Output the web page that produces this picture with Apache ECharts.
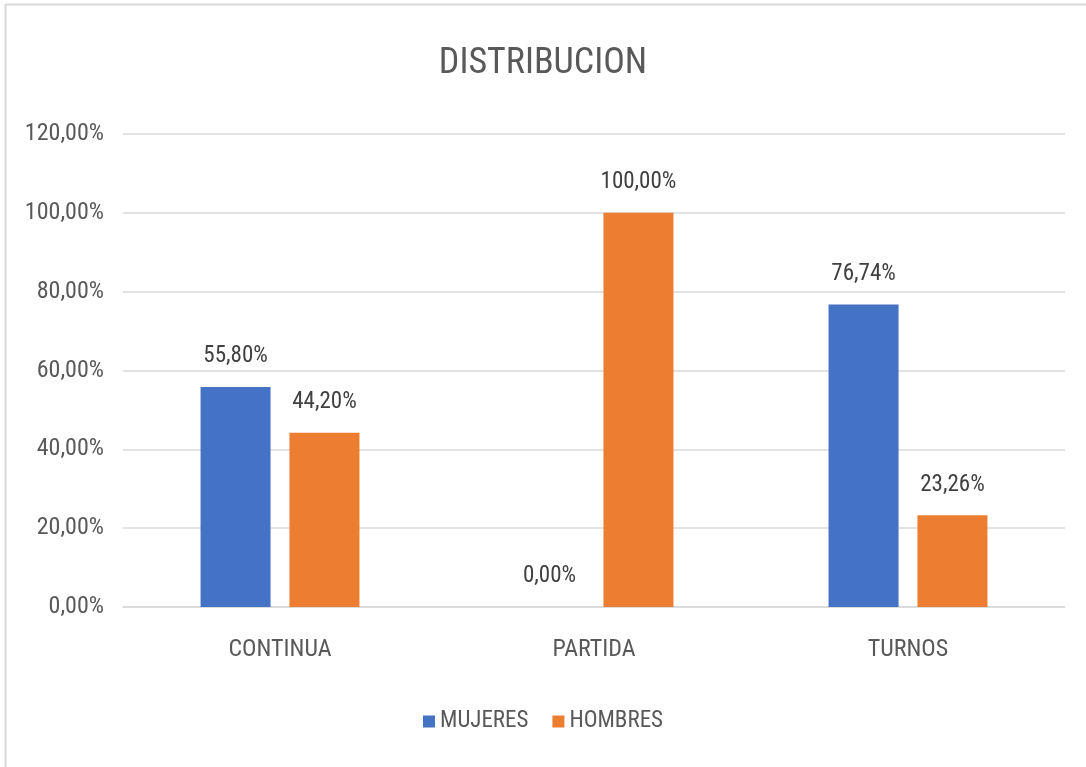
<!DOCTYPE html>
<html>
<head>
<meta charset="utf-8">
<script src="https://cdn.jsdelivr.net/npm/echarts@6/dist/echarts.min.js"></script>
<style>
  html, body { margin: 0; padding: 0; background: #fff; }
  #chart { width: 1086px; height: 767px; }
</style>
</head>
<body>
<div id="chart"></div>
<script>
var categories = ['CONTINUA', 'PARTIDA', 'TURNOS'];
var mujeres = [55.80, 0.00, 76.74];
var hombres = [44.20, 100.00, 23.26];
var yTicks = [0, 20, 40, 60, 80, 100, 120];

var font = '"Liberation Sans Narrow", "Roboto Condensed", "Noto Sans", sans-serif';
var textColor = '#595959';

function pct(v) {
  return Number(v).toFixed(2).replace('.', ',') + '%';
}

var chart = echarts.init(document.getElementById('chart'));
chart.setOption({
  backgroundColor: '#fff',
  animation: false,
  graphic: [{
    type: 'rect',
    shape: { x: 5.5, y: 4.5, width: 1090, height: 770 },
    style: { fill: 'none', stroke: '#d9d9d9', lineWidth: 2 },
    silent: true
  }],
  title: {
    text: 'DISTRIBUCION',
    left: 'center',
    top: 41,
    textStyle: { fontFamily: font, fontSize: 36, fontWeight: 'normal', color: textColor }
  },
  legend: {
    bottom: 29,
    left: 'center',
    itemWidth: 12,
    itemHeight: 12,
    itemGap: 24,
    icon: 'rect',
    textStyle: { fontFamily: font, fontSize: 23, color: textColor },
    data: ['MUJERES', 'HOMBRES']
  },
  grid: { left: 123, right: 21, top: 134, bottom: 160 },
  xAxis: {
    type: 'category',
    data: categories,
    axisTick: { show: false },
    axisLine: { lineStyle: { color: '#d9d9d9', width: 1.5 } },
    axisLabel: { fontFamily: font, fontSize: 24, color: textColor, margin: 31 }
  },
  yAxis: {
    type: 'value',
    min: yTicks[0],
    max: yTicks[yTicks.length - 1],
    interval: 20,
    axisLine: { show: false },
    axisTick: { show: false },
    splitLine: { lineStyle: { color: '#d9d9d9', width: 1.5 } },
    axisLabel: { fontFamily: font, fontSize: 24, color: textColor, margin: 19, formatter: pct }
  },
  series: [
    {
      name: 'MUJERES',
      type: 'bar',
      data: mujeres,
      barWidth: 70,
      barGap: '27%',
      itemStyle: { color: '#4472c4' },
      label: {
        show: true, position: 'top', distance: 19,
        fontFamily: font, fontSize: 23, color: '#404040',
        formatter: function (p) { return pct(p.value); }
      }
    },
    {
      name: 'HOMBRES',
      type: 'bar',
      data: hombres,
      barWidth: 70,
      itemStyle: { color: '#ed7d31' },
      label: {
        show: true, position: 'top', distance: 19,
        fontFamily: font, fontSize: 23, color: '#404040',
        formatter: function (p) { return pct(p.value); }
      }
    }
  ]
});
</script>
</body>
</html>
